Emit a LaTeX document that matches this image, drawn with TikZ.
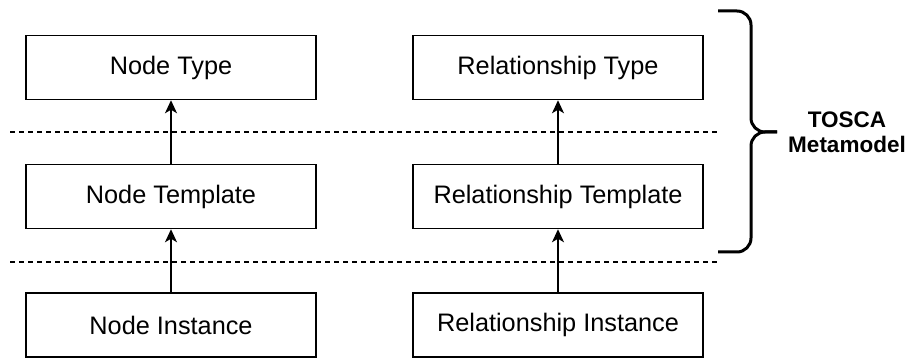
\documentclass[tikz,border=0pt]{standalone}
\usepackage{fontspec}
\setmainfont{Liberation Sans}
\usetikzlibrary{arrows.meta}
\begin{document}
\begin{tikzpicture}[x=1pt,y=-1pt,
  level/.style={draw=black, line width=1.5pt, minimum width=290pt, minimum height=64pt,
    inner sep=0pt, font=\fontsize{25.3}{30}\selectfont},
  lift/.style={-{Stealth[length=13pt,width=12pt,inset=3.5pt]}, line width=1.6pt},
  sep/.style={dashed, dash pattern=on 5pt off 4pt, line width=1.4pt},
  brace/.style={line width=3pt, rounded corners=14pt},
  caption/.style={font=\fontsize{22.5}{25}\selectfont\bfseries, align=center}]
  \useasboundingbox (0,0) rectangle (905,358);

  % left column: nodes
  \node[level] (ntype) at (171,67.5) {Node Type};
  \node[level] (ntmpl) at (171,196.5) {Node Template};
  \node[level] (ninst) at (171,325) {Node Instance};

  % right column: relationships
  \node[level] (rtype) at (558,67.5) {Relationship Type};
  \node[level] (rtmpl) at (558,196.5) {Relationship Template};
  \node[level] (rinst) at (558,325) {Relationship Instance};

  % layer separators
  \coordinate (s1a) at (10,132);
  \coordinate (s1b) at (720,132);
  \coordinate (s2a) at (10,262);
  \coordinate (s2b) at (720,262);
  \draw[sep] (s1a) -- (s1b);
  \draw[sep] (s2a) -- (s2b);

  % instance -> template -> type
  \draw[lift] (ninst) -- (ntmpl);
  \draw[lift] (ntmpl) -- (ntype);
  \draw[lift] (rinst) -- (rtmpl);
  \draw[lift] (rtmpl) -- (rtype);

  % curly brace grouping the two upper layers
  \coordinate (bt) at (718,11);
  \coordinate (bb) at (718,252);
  \coordinate (bm) at (751,132);
  \coordinate (tip) at (777,132);
  \draw[brace] (bt) -| (bm) -- (tip);
  \draw[brace] (bb) -| (bm) -- (tip);

  \node[caption, anchor=base] (meta) at (847,153) {TOSCA\\Metamodel};
\end{tikzpicture}
\end{document}
